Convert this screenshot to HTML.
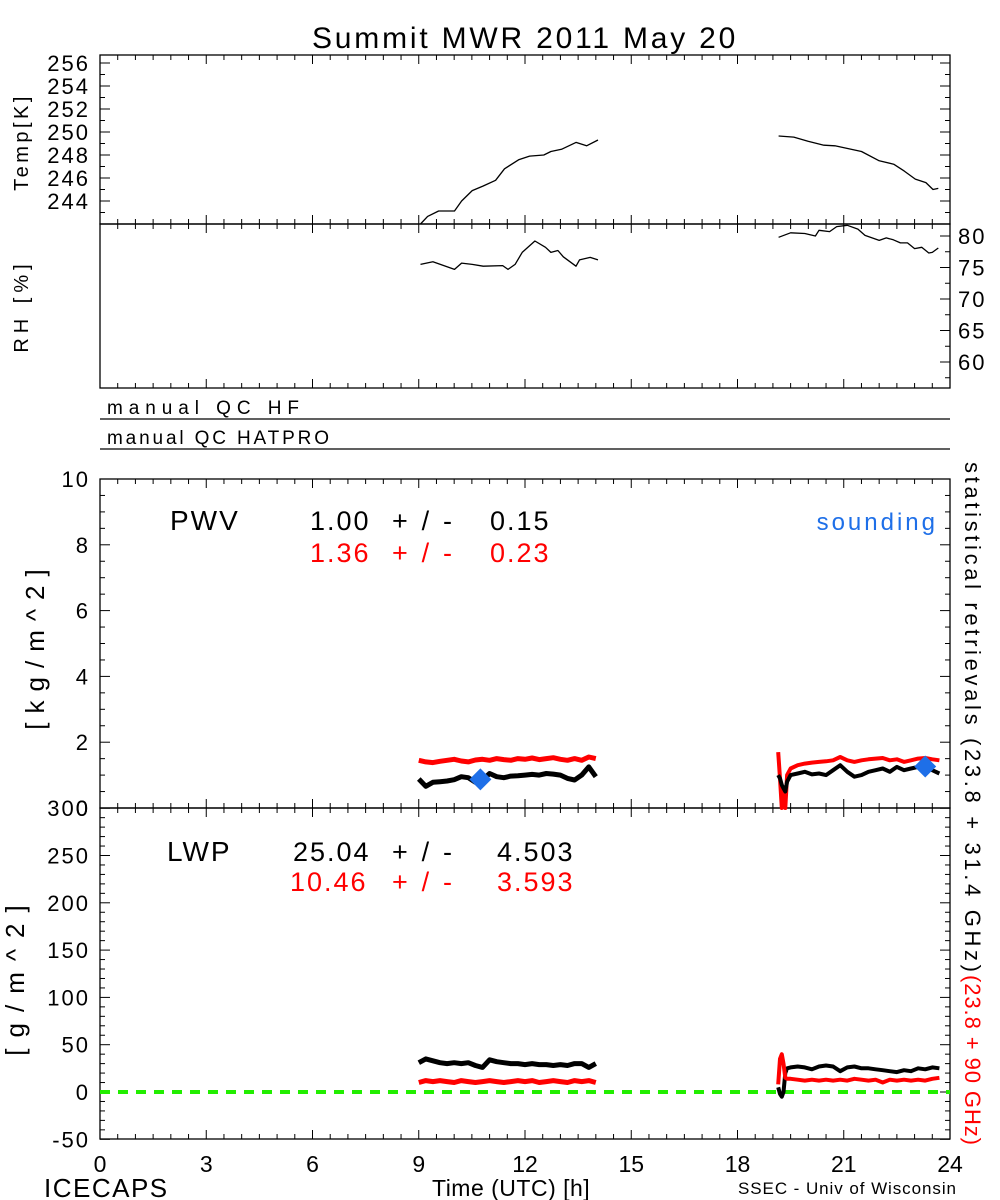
<!DOCTYPE html>
<html><head><meta charset="utf-8"><style>
html,body{margin:0;padding:0;background:#fff;}
svg{display:block;font-family:"Liberation Sans",sans-serif;}
</style></head><body>
<svg id="chart" width="1000" height="1200" viewBox="0 0 1000 1200" xmlns="http://www.w3.org/2000/svg">
<rect width="1000" height="1200" fill="#fff"/>
<text x="312" y="48" font-size="30" letter-spacing="2.8">Summit MWR 2011 May 20</text>
<g id="axes"></g>
<g id="marks"></g>
<text transform="translate(28,142) rotate(-90)" font-size="20" letter-spacing="3.5" text-anchor="middle">Temp[K]</text>
<text transform="translate(28,306) rotate(-90)" font-size="20" letter-spacing="5" text-anchor="middle">RH [%]</text>
<text x="107" y="414" font-size="19" textLength="192" lengthAdjust="spacing">manual QC HF</text>
<text x="107" y="444" font-size="19" textLength="222" lengthAdjust="spacing">manual QC HATPRO</text>
<text transform="translate(44,645) rotate(-90)" font-size="26" letter-spacing="9" text-anchor="middle">[kg/m^2]</text>
<text transform="translate(24,975) rotate(-90)" font-size="26" letter-spacing="11" text-anchor="middle">[g/m^2]</text>
<text x="170" y="530" font-size="28" letter-spacing="2">PWV</text>
<g font-size="27" letter-spacing="2"><text x="310" y="530">1.00</text><text x="392" y="530" textLength="62" lengthAdjust="spacing">+/-</text><text x="490" y="530">0.15</text></g>
<g font-size="27" letter-spacing="2" fill="#ff0000"><text x="310" y="562">1.36</text><text x="392" y="562" textLength="62" lengthAdjust="spacing">+/-</text><text x="490" y="562">0.23</text></g>
<text x="938" y="530" font-size="24" letter-spacing="3" fill="#1e6fe8" text-anchor="end">sounding</text>
<text x="167" y="861" font-size="28" letter-spacing="2">LWP</text>
<g font-size="27" letter-spacing="2"><text x="293" y="861">25.04</text><text x="392" y="861" textLength="62" lengthAdjust="spacing">+/-</text><text x="497" y="861">4.503</text></g>
<g font-size="27" letter-spacing="2" fill="#ff0000"><text x="290" y="891">10.46</text><text x="392" y="891" textLength="62" lengthAdjust="spacing">+/-</text><text x="497" y="891">3.593</text></g>
<g font-size="22">
<text transform="translate(965,462) rotate(90)" textLength="510" lengthAdjust="spacing">statistical retrievals (23.8 + 31.4 GHz)</text>
<text transform="translate(965,975) rotate(90)" textLength="170" lengthAdjust="spacing" fill="#ff0000">(23.8 + 90 GHz)</text>
</g>
<text x="432" y="1196" font-size="23" letter-spacing="0.5">Time (UTC) [h]</text>
<text x="44" y="1197" font-size="26" letter-spacing="1.5">ICECAPS</text>
<text x="738" y="1194" font-size="17" textLength="218" lengthAdjust="spacing">SSEC - Univ of Wisconsin</text>
</svg>
<script>
// ---- data ----
const tempT1=[9.05,9.25,9.56,10.01,10.21,10.51,10.82,11.17,11.42,11.83,12.13,12.53,12.73,13.03,13.44,13.74,14.06];
const tempV1=[242.0,242.66,243.13,243.13,244.0,244.9,245.3,245.8,246.8,247.6,247.9,248.0,248.3,248.5,249.1,248.8,249.3];
const tempT2=[19.16,19.59,19.99,20.44,20.75,21.5,22.0,22.41,22.71,23.02,23.32,23.52,23.67];
const tempV2=[249.65,249.56,249.2,248.85,248.8,248.3,247.5,247.2,246.6,245.9,245.6,245.0,245.1];
const rhT1=[9.05,9.4,10.01,10.21,10.51,10.82,11.37,11.52,11.72,11.92,12.28,12.58,12.73,12.93,13.08,13.44,13.54,13.84,14.06];
const rhV1=[75.5,75.9,74.7,75.7,75.5,75.2,75.3,74.7,75.5,77.4,79.2,78.2,77.4,77.7,76.7,75.2,76.2,76.6,76.2];
const rhT2=[19.16,19.5,19.9,20.2,20.3,20.6,20.8,21.1,21.4,21.6,22.0,22.2,22.4,22.6,22.8,23.0,23.2,23.4,23.5,23.67];
const rhV2=[79.8,80.5,80.4,80.0,80.9,80.7,81.5,81.7,81.1,80.1,79.3,79.7,79.4,78.9,78.9,78.0,78.2,77.3,77.4,78.1];
const segT1=[9.0,9.2,9.4,9.6,9.8,10.0,10.2,10.4,10.6,10.8,11.0,11.2,11.4,11.6,11.8,12.0,12.2,12.4,12.6,12.8,13.0,13.2,13.4,13.6,13.8,14.0];
const segT2=[19.15,19.2,19.25,19.3,19.35,19.4,19.5,19.7,19.9,20.1,20.3,20.5,20.7,20.9,21.1,21.3,21.5,21.7,21.9,22.1,22.3,22.5,22.7,22.9,23.1,23.3,23.5,23.7];
const pwvBlack1=[0.88,0.66,0.78,0.80,0.82,0.86,0.95,0.92,0.78,0.85,1.05,0.95,0.92,0.97,0.98,1.00,1.02,1.00,1.05,1.03,1.00,0.90,0.85,1.00,1.25,0.95];
const pwvRed1=[1.45,1.40,1.38,1.42,1.45,1.48,1.43,1.40,1.46,1.48,1.45,1.50,1.47,1.45,1.50,1.48,1.52,1.47,1.50,1.53,1.48,1.45,1.50,1.45,1.55,1.50];
const pwvBlack2=[1.0,0.9,0.7,0.6,0.5,0.8,1.0,1.05,1.10,1.02,1.05,1.00,1.15,1.30,1.10,0.95,1.00,1.10,1.15,1.20,1.10,1.25,1.15,1.20,1.25,1.30,1.15,1.05];
const pwvRed2=[1.7,0.9,0.0,0.6,0.0,1.0,1.2,1.30,1.35,1.38,1.40,1.42,1.45,1.55,1.45,1.40,1.45,1.48,1.50,1.52,1.45,1.48,1.40,1.45,1.50,1.52,1.48,1.45];
const soundT=[10.74,23.3];
const soundV=[0.87,1.26];
const lwpBlack1=[31,35,33,31,30,31,30,31,28,26,34,32,31,30,30,29,30,29,29,28,29,28,30,30,26,30];
const lwpRed1=[10,12,11,12,11,10,12,11,10,11,12,11,10,11,12,11,12,10,11,12,11,10,12,11,12,10];
const lwpBlack2=[5,-2,-5,0,20,25,26,27,26,24,27,28,27,22,26,27,25,25,24,23,22,21,23,22,25,24,26,25];
const lwpRed2=[8,35,40,30,15,14,14,13,12,13,12,13,12,13,12,14,13,12,13,10,13,12,13,12,13,12,14,15];
const xTicks=[0,3,6,9,12,15,18,21,24];
const tempTicks=[244,246,248,250,252,254,256];
const rhTicks=[60,65,70,75,80];
const pwvTicks=[0,2,4,6,8,10];
const lwpTicks=[-50,0,50,100,150,200,250,300];

// ---- scales ----
const X0=100,X1=950;
const xs=h=>X0+h*(X1-X0)/24;
const yTemp=v=>224-(v-242)*11.5;
const yRH=v=>362-(v-60)*6.3;
const yPWV=v=>808-v*32.9;
const yLWP=v=>1092-v*0.946;

const NS="http://www.w3.org/2000/svg";
const axes=document.getElementById('axes');
const marks=document.getElementById('marks');
function mk(tag,attrs,parent){const e=document.createElementNS(NS,tag);for(const k in attrs)e.setAttribute(k,attrs[k]);parent.appendChild(e);return e;}

function frame(top,bot,name){
  const r=mk('rect',{x:X0,y:top,width:X1-X0,height:bot-top,fill:'none',stroke:'#000','stroke-width':1.3},axes);
  
  
  for(let h=0;h<=24.001;h+=0.5){
    const major=Math.abs(h/3-Math.round(h/3))<1e-6;const L=major?9:5;const x=xs(h);
    mk('line',{x1:x,x2:x,y1:top,y2:top+L,stroke:'#000','stroke-width':1},axes);
    mk('line',{x1:x,x2:x,y1:bot,y2:bot-L,stroke:'#000','stroke-width':1},axes);
  }
}
function yticks(fn,lo,hi,minor,labels,side,name){
  for(let v=lo;v<=hi+1e-6;v+=minor){
    const y=fn(v);const maj=labels.some(l=>Math.abs(l-v)<1e-6);const L=maj?10:5;
    if(side==='left'||side==='both') mk('line',{x1:X0,x2:X0+L,y1:y,y2:y,stroke:'#000'},axes);
    if(side==='right'||side==='both') mk('line',{x1:X1,x2:X1-L,y1:y,y2:y,stroke:'#000'},axes);
  }
  labels.forEach(v=>{
    const t=mk('text',side==='right'?{x:X1+8,y:fn(v)+8,'font-size':22,'letter-spacing':2}:{x:X0-10,y:fn(v)+8,'font-size':22,'letter-spacing':2,'text-anchor':'end'},axes);
    t.textContent=v;
    
    
  });
}
frame(55,224,'temp-panel');
frame(224,388,'rh-panel');
frame(479,808,'pwv-panel');
frame(808,1139,'lwp-panel');
yticks(yTemp,243,256,1,tempTicks,'both','temp');
yticks(yRH,57.5,80,2.5,rhTicks,'right','rh');
yticks(yPWV,0,10,0.5,pwvTicks,'both','pwv');
yticks(yLWP,-50,300,10,lwpTicks,'both','lwp');
[419,449].forEach((y,i)=>{
  const l=mk('line',{x1:X0,x2:X1,y1:y,y2:y,stroke:'#000','stroke-width':1.2},axes);
  
  
});
xTicks.forEach(h=>{
  const t=mk('text',{x:xs(h),y:1172,'font-size':23,'text-anchor':'middle'},axes);
  t.textContent=h;
  
  
});
// zero line
const zl=mk('line',{x1:X0,x2:X1,y1:yLWP(0),y2:yLWP(0),stroke:'#22ee00','stroke-width':4,'stroke-dasharray':'10 8'},marks);



function line(ts,vs,fn,color,w,name){
  const d=ts.map((t,i)=>(i?'L':'M')+xs(t).toFixed(1)+' '+fn(vs[i]).toFixed(1)).join(' ');
  const p=mk('path',{d:d,fill:'none',stroke:color,'stroke-width':w,'stroke-linejoin':'round'},marks);
  
  
}
line(tempT1,tempV1,yTemp,'#000',1.3,'temp-line-1');
line(tempT2,tempV2,yTemp,'#000',1.3,'temp-line-2');
line(rhT1,rhV1,yRH,'#000',1.3,'rh-line-1');
line(rhT2,rhV2,yRH,'#000',1.3,'rh-line-2');
line(segT1,pwvRed1,yPWV,'#ff0000',5,'pwv-red-1');
line(segT2,pwvRed2,yPWV,'#ff0000',4,'pwv-red-2');
line(segT1,pwvBlack1,yPWV,'#000',5,'pwv-black-1');
line(segT2,pwvBlack2,yPWV,'#000',4,'pwv-black-2');
line(segT1,lwpBlack1,yLWP,'#000',5,'lwp-black-1');
line(segT2,lwpBlack2,yLWP,'#000',4,'lwp-black-2');
line(segT1,lwpRed1,yLWP,'#ff0000',5,'lwp-red-1');
line(segT2,lwpRed2,yLWP,'#ff0000',4,'lwp-red-2');
soundT.forEach((t,i)=>{
  const x=xs(t),y=yPWV(soundV[i]),r=11;
  const p=mk('polygon',{points:`${x},${y-r} ${x+r},${y} ${x},${y+r} ${x-r},${y}`,fill:'#1e6fe8'},marks);
  
  
});
</script>
</body></html>
